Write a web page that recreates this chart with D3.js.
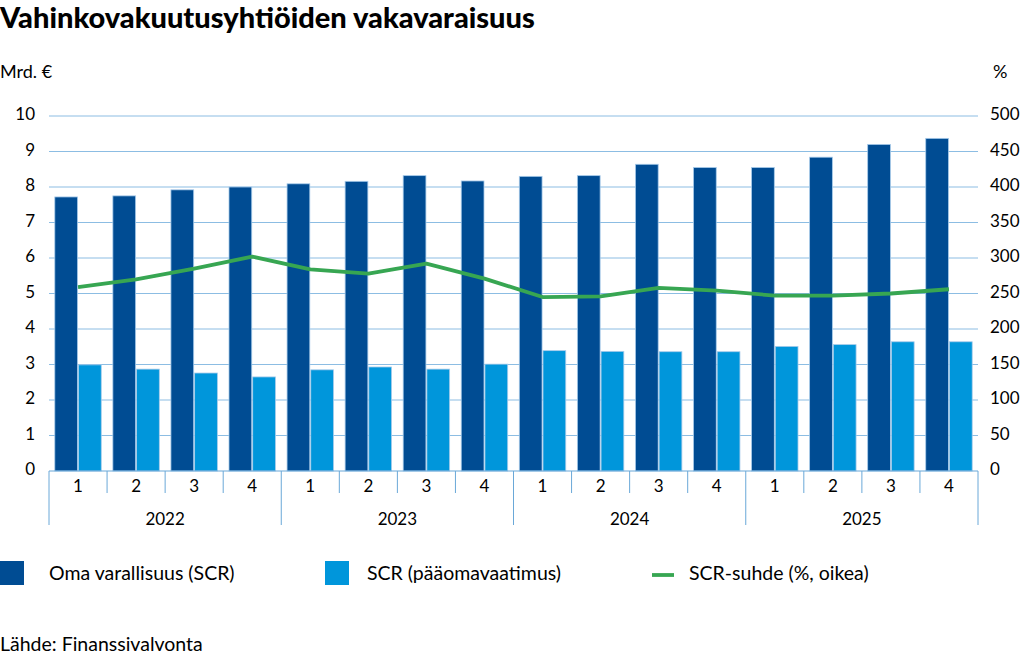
<!DOCTYPE html>
<html>
<head>
<meta charset="utf-8">
<script src="https://cdn.jsdelivr.net/npm/d3@7"></script>
<style>
  body { margin: 0; background: #fff; }
  svg { font-family: Lato, "Open Sans", sans-serif; }
</style>
</head>
<body>
<div id="chart"></div>
<script>
const years = ['2022', '2023', '2024', '2025'];
const quarters = ['1', '2', '3', '4'];
// Oma varallisuus (SCR), mrd. €
const ownFunds = [7.72, 7.75, 7.92, 8.00, 8.09, 8.16, 8.32, 8.17, 8.30, 8.32, 8.64, 8.55, 8.55, 8.84, 9.20, 9.37];
// SCR (pääomavaatimus), mrd. €
const scrReq = [2.99, 2.87, 2.76, 2.65, 2.85, 2.93, 2.87, 3.01, 3.39, 3.37, 3.36, 3.36, 3.51, 3.56, 3.64, 3.64];
// SCR-suhde, %
const scrRatio = [259, 270, 285, 302, 284, 278, 292, 271, 245, 246, 258, 254, 247, 247, 250, 256];
const leftTicks = [0, 1, 2, 3, 4, 5, 6, 7, 8, 9, 10];
const rightTicks = [0, 50, 100, 150, 200, 250, 300, 350, 400, 450, 500];

const width = 1027, height = 668;
const plot = { left: 49, right: 978, top: 116, bottom: 471 };

const cats = years.flatMap(y => quarters.map(q => y + '-' + q));
const rows = cats.map((c, i) => ({ key: c, q: quarters[i % 4], own: ownFunds[i], scr: scrReq[i], ratio: scrRatio[i] }));

const x = d3.scaleBand().domain(cats).range([plot.left, plot.right]);
const xSub = d3.scaleBand().domain(['own', 'scr'])
    .range([x.bandwidth() * 0.1, x.bandwidth() * 0.9])
    .paddingInner(0.04);
const yL = d3.scaleLinear().domain([0, 10]).range([plot.bottom, plot.top]);
const yR = d3.scaleLinear().domain([0, 500]).range([plot.bottom, plot.top]);

const colors = { own: '#004c93', scr: '#0096db', ratio: '#37a652' };

const svg = d3.select('#chart').append('svg')
    .attr('width', width)
    .attr('height', height)
    .attr('viewBox', [0, 0, width, height]);

// Title
svg.append('text')
    .attr('x', 0)
    .attr('y', 28)
    .style('font-size', '29px')
    .style('font-weight', '900')
    .style('fill', '#000')
    .text('Vahinkovakuutusyhtiöiden vakavaraisuus');

// Axis unit labels
svg.append('text')
    .attr('x', 0).attr('y', 78)
    .style('font-size', '18px')
    .text('Mrd. €');
svg.append('text')
    .attr('x', 993).attr('y', 78)
    .style('font-size', '18px')
    .text('%');

// Gridlines
svg.append('g')
    .selectAll('line')
    .data(leftTicks.filter(d => d > 0))
    .join('line')
    .attr('x1', plot.left)
    .attr('x2', plot.right)
    .attr('y1', d => yL(d))
    .attr('y2', d => yL(d))
    .attr('stroke', '#8cbde3')
    .attr('stroke-width', 1);

// Left axis labels
svg.append('g')
    .selectAll('text')
    .data(leftTicks)
    .join('text')
    .attr('x', 35)
    .attr('y', d => yL(d))
    .attr('text-anchor', 'end')
    .attr('dominant-baseline', 'middle')
    .style('font-size', '17px')
    .text(d => d);

// Right axis labels
svg.append('g')
    .selectAll('text')
    .data(rightTicks)
    .join('text')
    .attr('x', 990)
    .attr('y', d => yR(d))
    .attr('dominant-baseline', 'middle')
    .style('font-size', '17px')
    .text(d => d);

// Bars
const groups = svg.append('g')
    .selectAll('g')
    .data(rows)
    .join('g')
    .attr('transform', d => `translate(${x(d.key)},0)`);

['own', 'scr'].forEach(k => {
    groups.append('rect')
        .attr('x', xSub(k))
        .attr('width', xSub.bandwidth())
        .attr('y', d => yL(d[k]))
        .attr('height', d => yL(0) - yL(d[k]))
        .attr('fill', colors[k])
        .attr('stroke', '#a8cbea')
        .attr('stroke-width', 0.8);
});

// SCR ratio line
const line = d3.line()
    .x(d => x(d.key) + x.bandwidth() / 2)
    .y(d => yR(d.ratio));

svg.append('path')
    .datum(rows)
    .attr('d', line)
    .attr('fill', 'none')
    .attr('stroke', colors.ratio)
    .attr('stroke-width', 3.8)
    .attr('stroke-linejoin', 'round');

// X axis baseline and separators
svg.append('line')
    .attr('x1', plot.left).attr('x2', plot.right)
    .attr('y1', plot.bottom).attr('y2', plot.bottom)
    .attr('stroke', '#6aa8d8')
    .attr('stroke-width', 1.2);

const bounds = d3.range(cats.length + 1);
svg.append('g')
    .selectAll('line')
    .data(bounds)
    .join('line')
    .attr('x1', i => i < cats.length ? x(cats[i]) : plot.right)
    .attr('x2', i => i < cats.length ? x(cats[i]) : plot.right)
    .attr('y1', plot.bottom)
    .attr('y2', i => i % 4 === 0 ? 525 : 493)
    .attr('stroke', '#6aa8d8')
    .attr('stroke-width', 1);

// Quarter labels
svg.append('g')
    .selectAll('text')
    .data(rows)
    .join('text')
    .attr('x', d => x(d.key) + x.bandwidth() / 2)
    .attr('y', 488)
    .attr('text-anchor', 'middle')
    .attr('dominant-baseline', 'middle')
    .style('font-size', '17px')
    .text(d => d.q);

// Year labels
svg.append('g')
    .selectAll('text')
    .data(years)
    .join('text')
    .attr('x', (d, i) => (x(cats[i * 4]) + x(cats[i * 4 + 3]) + x.bandwidth()) / 2)
    .attr('y', 521)
    .attr('text-anchor', 'middle')
    .attr('dominant-baseline', 'middle')
    .style('font-size', '17px')
    .text(d => d);

// Legend
const legend = svg.append('g');
const legendItems = [
    { label: 'Oma varallisuus (SCR)', color: colors.own, type: 'rect', x: 0, tx: 49 },
    { label: 'SCR (pääomavaatimus)', color: colors.scr, type: 'rect', x: 325, tx: 367 },
    { label: 'SCR-suhde (%, oikea)', color: colors.ratio, type: 'line', x: 652, tx: 689 }
];
legendItems.forEach(it => {
    if (it.type === 'rect') {
        legend.append('rect')
            .attr('x', it.x).attr('y', 561)
            .attr('width', 24).attr('height', 24)
            .attr('fill', it.color);
    } else {
        legend.append('line')
            .attr('x1', it.x).attr('x2', it.x + 22)
            .attr('y1', 575).attr('y2', 575)
            .attr('stroke', it.color)
            .attr('stroke-width', 3.8);
    }
    legend.append('text')
        .attr('x', it.tx).attr('y', 575)
        .attr('dominant-baseline', 'middle')
        .style('font-size', '19.5px')
        .text(it.label);
});

// Source
svg.append('text')
    .attr('x', 0).attr('y', 646)
    .attr('dominant-baseline', 'middle')
    .style('font-size', '19.5px')
    .text('Lähde: Finanssivalvonta');
</script>
</body>
</html>
